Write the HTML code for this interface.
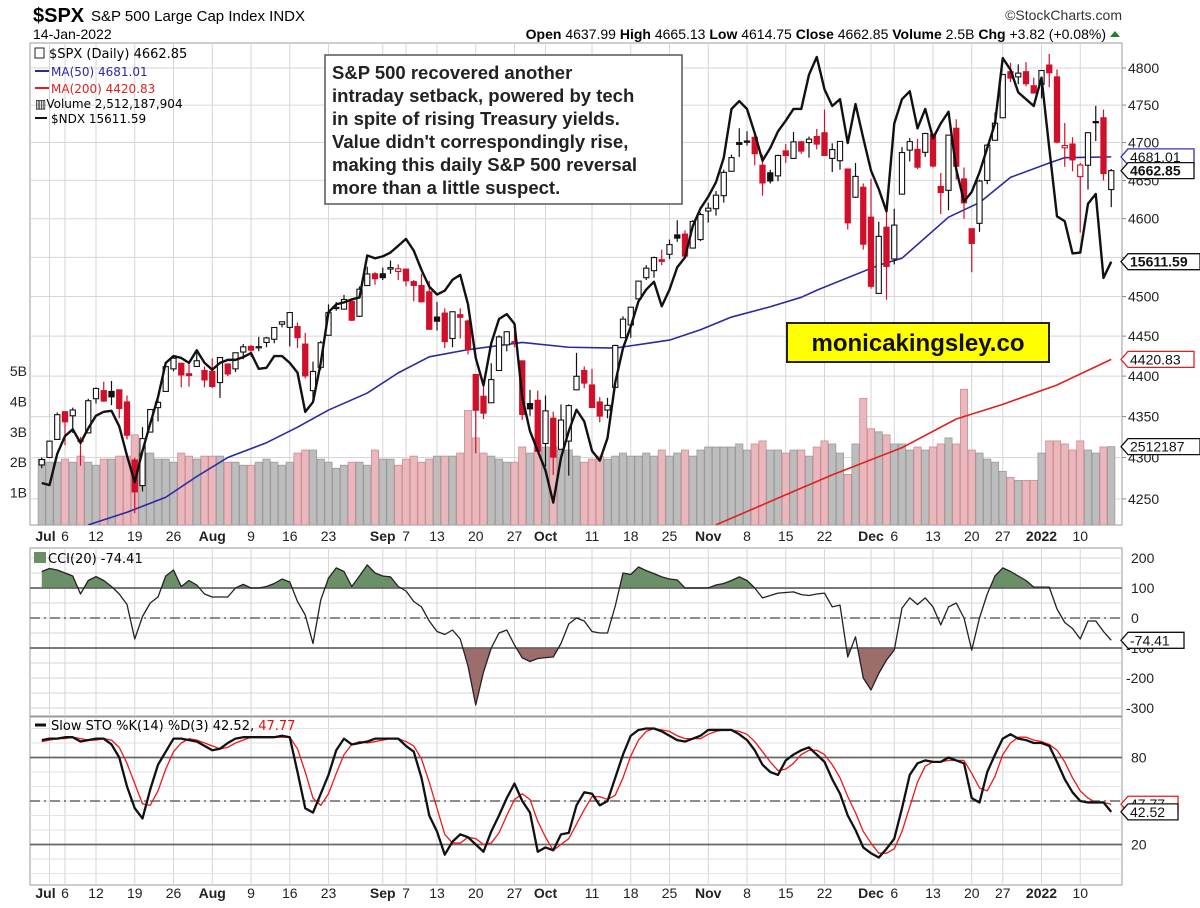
<!DOCTYPE html>
<html><head><meta charset="utf-8"><title>$SPX chart</title>
<style>
body{margin:0;background:#fff;}
svg{display:block;font-family:"Liberation Sans",Arial,sans-serif;}
.ax{font-size:14px;fill:#222;}
.lg{font-family:"DejaVu Sans",sans-serif;font-size:12px;}
</style></head>
<body>
<svg id="c" width="1200" height="908" viewBox="0 0 1200 908" xmlns="http://www.w3.org/2000/svg">
<text x="33" y="22" font-size="20" font-weight="bold">$SPX</text>
<text x="91" y="21" font-size="15">S&amp;P 500 Large Cap Index INDX</text>
<text x="33" y="39" font-size="14">14-Jan-2022</text>
<text x="1122" y="20" font-size="14" text-anchor="end" fill="#333">©StockCharts.com</text>
<text x="1106" y="39" font-size="14" text-anchor="end"><tspan font-weight="bold">Open</tspan> 4637.99 <tspan font-weight="bold">High</tspan> 4665.13 <tspan font-weight="bold">Low</tspan> 4614.75 <tspan font-weight="bold">Close</tspan> 4662.85 <tspan font-weight="bold">Volume</tspan> 2.5B <tspan font-weight="bold">Chg</tspan> +3.82 (+0.08%)</text>
<polygon points="1110,37 1120,37 1115,31" fill="#2a7a2a"/>
<defs>
<clipPath id="mainClip"><rect x="30" y="43" width="1092" height="482"/></clipPath>
<clipPath id="cciClip"><rect x="30" y="548" width="1092" height="168"/></clipPath>
<clipPath id="stoClip"><rect x="30" y="717" width="1092" height="168"/></clipPath>
</defs>
<g id="gMain" clip-path="url(#mainClip)"></g>
<g id="gCci" clip-path="url(#cciClip)"></g>
<g id="gSto" clip-path="url(#stoClip)"></g>
<g id="gTop"></g>
</svg>
<script>
// ---------- data ----------
const closes=[4297.5,4319.94,4352.34,4343.54,4358.13,4320.82,4369.55,4384.63,4369.21,4374.30,4360.03,4327.16,4258.49,4323.06,4358.69,4367.48,4411.79,4422.30,4401.46,4400.64,4419.15,4395.26,
4387.16,4423.15,4402.66,4429.10,4436.52,4432.35,4436.75,4447.70,4460.83,4468.00,4479.71,4448.08,4400.27,4405.80,4441.67,4479.53,4486.23,4496.19,4470.00,4509.37,4528.79,4522.68,
4524.09,4536.95,4535.43,4520.03,4514.07,4493.28,4458.58,4468.73,4443.05,4480.70,4473.75,4432.99,4357.73,4354.19,4395.64,4448.98,4455.48,4443.11,4352.63,4359.46,4307.54,
4357.04,4300.46,4345.72,4363.55,4399.76,4391.34,4361.19,4350.65,4363.80,4438.26,4471.37,4486.46,4519.63,4536.19,4549.78,4544.90,4566.48,4574.79,4551.68,4596.42,4605.38,
4613.67,4630.65,4660.57,4680.06,4697.53,4701.70,4685.25,4646.71,4649.27,4682.85,4682.80,4700.90,4688.67,4704.54,4697.96,4682.94,4690.70,4701.46,4594.62,4655.27,4567.00,
4513.04,4577.10,4538.43,4591.67,4686.75,4701.21,4667.45,4712.02,4668.97,4634.09,4709.85,4668.67,4620.64,4568.02,4649.23,4696.56,4725.79,4791.19,4786.35,4793.06,4778.73,4766.18,
4796.56,4793.54,4700.58,4696.05,4677.03,4670.29,4713.07,4726.35,4659.03,4662.85];
const opens=[4291,4300,4322,4356,4351,4321,4330,4372,4382,4381,4383,4368,4297,4266,4331,4361,4381,4409,4416,4403,4412,4407,
4406,4392,4415,4409,4430,4437,4436,4442,4446,4465,4461,4462,4440,4382,4411,4451,4485,4484,4494,4475,4514,4529,
4529,4535,4532,4535,4519,4514,4506,4474,4479,4447,4477,4469,4402,4375,4367,4407,4439,4443,4419,4366,4370,
4317,4348,4310,4320,4383,4407,4389,4368,4358,4386,4448,4464,4497,4524,4533,4547,4554,4579,4580,4562,4573,
4610,4613,4630,4662,4700,4702,4707,4670,4660,4656,4689,4679,4701,4700,4708,4713,4679,4676,4665,4628,4641,
4602,4504,4589,4548,4632,4690,4691,4687,4711,4642,4637,4719,4652,4587,4594,4650,4703,4733,4795,4788,4795,4776,
4778,4804,4788,4693,4698,4655,4670,4728,4733,4638];
const highs=[4300,4320,4355,4356,4361,4325,4372,4386,4393,4394,4383,4376,4300,4337,4359,4370,4415,4423,4416,4415,4430,4412,
4422,4423,4416,4429,4440,4439,4449,4449,4461,4468,4480,4467,4454,4418,4444,4490,4493,4502,4495,4513,4538,4531,
4537,4546,4541,4535,4521,4529,4520,4493,4485,4481,4485,4471,4402,4394,4416,4451,4456,4457,4419,4383,4382,
4376,4356,4365,4365,4429,4412,4409,4374,4373,4439,4475,4487,4520,4540,4551,4560,4573,4598,4585,4598,4608,
4621,4636,4664,4684,4719,4715,4708,4684,4664,4684,4698,4714,4702,4708,4718,4744,4699,4702,4665,4673,4646,
4652,4596,4608,4613,4694,4706,4705,4713,4712,4660,4709,4731,4667,4587,4651,4698,4740,4791,4807,4805,4808,4787,
4797,4819,4798,4726,4707,4673,4714,4749,4744,4665];
const lows=[4287,4300,4322,4315,4330,4290,4330,4366,4368,4364,4348,4322,4233,4259,4331,4344,4381,4406,4386,4387,4412,4386,
4385,4373,4400,4405,4421,4424,4431,4436,4441,4461,4437,4435,4397,4368,4408,4451,4482,4484,4469,4474,4514,4515,
4521,4529,4521,4513,4494,4493,4458,4457,4435,4436,4447,4427,4305,4347,4367,4407,4431,4436,4346,4351,4307,
4289,4279,4310,4278,4383,4385,4361,4343,4348,4386,4448,4448,4497,4521,4524,4540,4548,4570,4552,4562,4571,
4595,4604,4621,4662,4681,4696,4670,4630,4646,4649,4673,4679,4685,4680,4691,4683,4661,4664,4586,4627,4560,
4510,4504,4496,4541,4632,4675,4665,4681,4667,4606,4611,4651,4600,4531,4583,4645,4703,4733,4781,4778,4775,4766,
4759,4774,4699,4668,4662,4582,4638,4702,4650,4615];
const volumes=[2.1,2.0,2.0,2.1,2.0,2.2,2.0,1.9,2.1,2.1,2.2,2.2,2.9,2.3,2.3,2.1,2.1,2.0,2.3,2.2,2.1,2.2,
2.2,2.2,2.0,2.0,1.9,1.9,2.0,2.1,2.0,1.9,2.0,2.3,2.4,2.4,2.1,2.0,1.8,1.9,2.0,2.0,1.9,2.4,
2.1,2.1,1.9,2.1,2.2,2.0,2.1,2.2,2.2,2.2,2.3,3.7,2.8,2.3,2.2,2.1,2.0,2.0,2.5,2.3,2.6,
2.5,2.5,2.4,2.4,2.2,2.0,2.1,2.2,2.1,2.2,2.3,2.2,2.2,2.3,2.2,2.4,2.2,2.3,2.4,2.2,2.4,
2.5,2.5,2.5,2.5,2.6,2.4,2.6,2.7,2.4,2.4,2.3,2.4,2.4,2.2,2.5,2.7,2.6,2.3,1.6,2.6,4.1,
3.1,3.0,2.9,2.6,2.6,2.4,2.5,2.4,2.5,2.6,2.8,2.6,4.4,2.4,2.3,2.1,2.0,1.7,1.5,1.4,1.4,1.4,
2.3,2.7,2.7,2.6,2.4,2.7,2.4,2.3,2.5,2.512];
const ndx=[14573,14563,14710,14793,14825,14761,14830,14889,14907,14912,14839,14701,14577,14724,14852,14976,15137,15169,15160,15137,15196,15137,
15105,15137,15151,15151,15164,15183,15109,15114,15169,15169,15137,15091,14907,14953,15137,15375,15412,15421,15435,15444,15641,15628,
15637,15655,15687,15719,15664,15573,15495,15458,15476,15527,15550,15412,15160,15031,15229,15343,15366,15320,14976,14816,14724,
14632,14481,14692,14816,14917,14862,14724,14678,14784,15045,15206,15307,15426,15481,15518,15403,15481,15586,15632,15779,15862,
15917,15985,16100,16329,16366,16329,16215,16086,16146,16224,16274,16329,16329,16490,16573,16421,16343,16375,16169,16352,16192,
16040,15953,15848,16261,16375,16412,16238,16329,16192,16261,16316,16045,15894,15940,16031,16146,16261,16568,16513,16407,16375,16343,
16476,16146,15825,15802,15651,15655,15884,15930,15536,15612];
const ma50Idx=[6,11,16,20,24,29,33,37,42,46,50,55,62,68,74,81,85,89,94,98,100,108,111,117,121,125,130,132,138];
const ma50Val=[4219,4234,4252,4277,4300,4318,4337,4358,4379,4404,4424,4433,4442,4436,4435,4445,4458,4474,4487,4499,4508,4540,4549,4602,4621,4654,4673,4680,4681.01];
const ma200Idx=[87,98,102,111,118,124,131,138];
const ma200Val=[4219,4263,4279,4312,4347,4365,4389,4420.83];
const cci=[155,165,160,150,140,80,125,138,125,105,80,45,-70,5,50,70,140,160,105,125,110,80,
70,70,70,100,112,100,100,105,115,130,120,55,10,-85,60,133,167,155,105,140,177,150,
140,137,105,90,55,37,-10,-45,-55,-40,-70,-160,-290,-180,-100,-50,-40,-90,-133,-145,-135,
-132,-130,-85,-20,0,-10,-45,-50,-50,40,150,145,170,158,148,137,130,127,100,100,100,
100,110,115,125,137,125,100,67,75,83,85,87,78,75,80,83,37,43,-130,-63,-200,
-240,-185,-140,-107,33,67,45,67,37,-23,37,50,0,-107,0,80,140,167,155,140,125,103,
103,103,30,-15,-35,-70,-10,-10,-45,-74.41];
const stoK=[92,93,93,94,94,91,92,93,93,89,80,60,45,38,58,75,84,93,93,92,91,88,
85,86,90,93,94,94,94,94,94,95,94,70,45,42,55,68,85,93,89,90,91,93,
93,93,93,88,84,66,40,29,13,22,27,25,20,15,29,40,52,62,50,42,15,
18,16,27,28,47,56,55,47,50,66,82,95,99,100,100,98,95,92,91,93,95,
99,99,99,99,96,92,85,75,70,68,78,82,85,87,82,77,65,55,40,30,18,
14,11,17,24,45,68,76,78,77,77,80,78,76,52,49,70,82,93,96,93,92,90,
90,88,77,65,56,50,49,49,49,42.52];
const stoD=[91,92,93,93,94,93,92,92,93,92,87,76,62,48,47,57,72,84,90,93,92,90,
88,86,87,90,92,94,94,94,94,94,94,86,70,52,47,55,69,82,89,91,90,91,
92,93,93,91,88,79,63,45,27,21,21,25,24,20,21,28,40,51,55,51,36,
25,16,20,24,34,44,53,53,51,54,66,81,92,98,100,99,98,95,93,93,93,
96,98,99,99,98,96,91,84,77,71,72,76,82,85,85,82,75,66,53,42,29,
21,14,14,17,29,46,63,74,77,77,78,78,78,69,59,57,67,82,90,94,94,92,
91,89,85,77,66,57,52,49,49,47.77];
const tickIdx=[1,3,7,12,17,22,27,32,37,44,47,51,56,61,65,71,76,81,86,91,96,101,107,110,115,120,124,129,134];
const tickLbl=['Jul','6','12','19','26','Aug','9','16','23','Sep','7','13','20','27','Oct','11','18','25','Nov','8','15','22','Dec','6','13','20','27','2022','10'];
const priceTicks=[4250,4300,4350,4400,4450,4500,4550,4600,4650,4700,4750,4800];
const volTicks=[1,2,3,4,5];
const volTickLbl=['1B','2B','3B','4B','5B'];
const cciTicks=[-300,-200,-100,0,100,200];
const stoTicks=[20,80];

// ---------- scales ----------
const NS='http://www.w3.org/2000/svg';
function X(i){return 41.75+i*7.75;}
function yP(p){return 68+3541*Math.log(4800/p);}
function yN(v){return 57+(16573-v)*0.213;}
function yV(v){return 523-v*30.4;}
function yC(v){return 618-v*0.3;}
function yS(v){return 801-(v-50)*1.45;}
function mk(tag,parent){const e=document.createElementNS(NS,tag);parent.appendChild(e);return e;}
function sa(e,o){for(const k in o)e.setAttribute(k,o[k]);return e;}
const svg=document.getElementById('c');
const gMain=document.getElementById('gMain');
const gCci=document.getElementById('gCci');
const gSto=document.getElementById('gSto');
const gTop=document.getElementById('gTop');
const grid='#d6d6d6';

[[43,482],[548,168],[717,168]].forEach(function(p,k){
  const r=mk('rect',svg);svg.insertBefore(r,gMain);
  sa(r,{x:30,y:p[0],width:1092,height:p[1],fill:'#fff',stroke:'#999','stroke-width':1});
  
  
});

[gMain,gCci,gSto].forEach(function(g){
  tickIdx.forEach(function(t){
    const l=mk('line',g);sa(l,{x1:X(t),x2:X(t),y1:40,y2:890,stroke:grid,'stroke-width':1});
    
    
  });
});
priceTicks.forEach(function(p){
  const y=yP(p);
  const l=mk('line',gMain);sa(l,{x1:30,x2:1122,y1:y,y2:y,stroke:grid});
  
  
  const t=mk('text',gTop);sa(t,{x:1128,y:y+5,'class':'ax'});t.textContent=p;
  
  
  const tk=mk('line',gTop);sa(tk,{x1:1122,x2:1126,y1:y,y2:y,stroke:'#888'});
  
  
});
volTicks.forEach(function(v,k){
  const t=mk('text',gTop);sa(t,{x:27,y:yV(v)+5,'class':'ax','text-anchor':'end','font-size':'13'});t.textContent=volTickLbl[k];
  
  
});
volumes.forEach(function(v,i){
  const down=i>0&&closes[i]<closes[i-1];
  const r=mk('rect',gMain);
  sa(r,{x:X(i)-3.6,y:yV(v),width:7.2,height:525-yV(v),fill:down?'#e8b8bd':'#bdbdbd',stroke:down?'#d08a92':'#9a9a9a','stroke-width':0.8});
  
  
});
function pline(g,idx,val,yf,color,w,name){
  const p=mk('polyline',g);
  sa(p,{points:idx.map(function(t,k){return X(t)+','+yf(val[k]);}).join(' '),fill:'none',stroke:color,'stroke-width':w,'stroke-linejoin':'round'});
  
  
  return p;
}
pline(gMain,ma200Idx,ma200Val,yP,'#e02020',1.6,'ma200-line');
pline(gMain,ma50Idx,ma50Val,yP,'#2a2aa0',1.6,'ma50-line');
closes.forEach(function(c,i){
  const o=opens[i],h=highs[i],l=lows[i];
  const col=(i>0&&c<closes[i-1])?'#d0102a':'#111';
  const w=mk('line',gMain);sa(w,{x1:X(i),x2:X(i),y1:yP(h),y2:yP(l),stroke:col,'stroke-width':1.2});
  
  
  const top=yP(Math.max(o,c)),bot=yP(Math.min(o,c));
  const b=mk('rect',gMain);
  sa(b,{x:X(i)-2.6,y:top,width:5.2,height:Math.max(1.2,bot-top),fill:c<o?col:'#fff',stroke:col,'stroke-width':1.1});
  
  
});
pline(gMain,ndx.map(function(v,i){return i;}),ndx,yN,'#111',2.4,'ndx-line');

for(let v=-300;v<=200;v+=50){
  const l=mk('line',gCci);sa(l,{x1:30,x2:1122,y1:yC(v),y2:yC(v),stroke:grid});
  
  
}
const cciIdx=cci.map(function(v,i){return i;});
const cciPts=cci.map(function(v,i){return X(i)+','+yC(v);}).join(' ');
const cp1=mk('clipPath',svg);sa(cp1,{id:'cciUp'});sa(mk('rect',cp1),{x:30,y:540,width:1092,height:yC(100)-540});
const cp2=mk('clipPath',svg);sa(cp2,{id:'cciDn'});sa(mk('rect',cp2),{x:30,y:yC(-100),width:1092,height:200});
const f1=mk('polygon',gCci);sa(f1,{points:X(0)+','+yC(100)+' '+cciPts+' '+X(cci.length-1)+','+yC(100),fill:'#6b8f66','clip-path':'url(#cciUp)'});


const f2=mk('polygon',gCci);sa(f2,{points:X(0)+','+yC(-100)+' '+cciPts+' '+X(cci.length-1)+','+yC(-100),fill:'#9c6d6b','clip-path':'url(#cciDn)'});


[100,-100].forEach(function(v){
  const l=mk('line',gCci);sa(l,{x1:30,x2:1122,y1:yC(v),y2:yC(v),stroke:'#666','stroke-width':1.8});
  
  
});
const z0=mk('line',gCci);sa(z0,{x1:30,x2:1122,y1:yC(0),y2:yC(0),stroke:'#666','stroke-width':1.6,'stroke-dasharray':'10,4,2,4'});


pline(gCci,cciIdx,cci,yC,'#222',1.3,'cci-line');
cciTicks.forEach(function(v){
  const t=mk('text',gTop);sa(t,{x:v<0?1126:1131,y:yC(v)+5,'class':'ax'});t.textContent=v;
  
  
});

for(let v=0;v<=100;v+=10){
  const l=mk('line',gSto);sa(l,{x1:30,x2:1122,y1:yS(v),y2:yS(v),stroke:'#e2e2e2'});
  
  
}
stoTicks.forEach(function(v){
  const l=mk('line',gSto);sa(l,{x1:30,x2:1122,y1:yS(v),y2:yS(v),stroke:'#666','stroke-width':1.8});
  
  
  const t=mk('text',gTop);sa(t,{x:1131,y:yS(v)+5,'class':'ax'});t.textContent=v;
  
  
});
const s50=mk('line',gSto);sa(s50,{x1:30,x2:1122,y1:yS(50),y2:yS(50),stroke:'#666','stroke-width':1.6,'stroke-dasharray':'10,4,2,4'});


pline(gSto,stoD.map(function(v,i){return i;}),stoD,yS,'#f01818',1.3,'sto-d-line');
pline(gSto,stoK.map(function(v,i){return i;}),stoK,yS,'#111',2.3,'sto-k-line');

[536,893].forEach(function(yy,k){
  tickIdx.forEach(function(t,j){
    const isM=/[A-Za-z]/.test(tickLbl[j])||tickLbl[j]==='2022';
    const tx=mk('text',gTop);sa(tx,{x:X(t)+(tickLbl[j]==='Jul'?-4:0),y:yy+5,'class':'ax','text-anchor':'middle','font-weight':isM?'bold':'normal'});
    tx.textContent=tickLbl[j];
    
    
  });
});

function tag(y,txt,color,bold,name,w){
  w=w||66;
  const p=mk('path',gTop);
  sa(p,{d:'M1121,'+y+' L1128,'+(y-8)+' L'+(1128+w)+','+(y-8)+' L'+(1128+w)+','+(y+8)+' L1128,'+(y+8)+' Z',fill:'#fff',stroke:color,'stroke-width':1.3});
  
  
  const t=mk('text',gTop);sa(t,{x:1130,y:y+5,'font-size':'14','font-weight':bold?'bold':'normal',fill:'#111'});t.textContent=txt;
  
  
}
tag(yP(ma50Val[ma50Val.length-1]),'4681.01','#3030c0',false,'ma50');
tag(yP(closes[closes.length-1]),'4662.85','#111',true,'close');
tag(yN(ndx[ndx.length-1]),'15611.59','#111',true,'ndx',72);
tag(yP(ma200Val[ma200Val.length-1]),'4420.83','#e02020',false,'ma200');
tag(yV(volumes[volumes.length-1]),'2512187','#111',false,'volume',72);
tag(yC(cci[cci.length-1]),'-74.41','#111',false,'cci',56);
tag(yS(stoD[stoD.length-1]),'47.77','#f01818',false,'sto-d',50);
tag(yS(stoK[stoK.length-1]),'42.52','#111',false,'sto-k',50);
</script>
<svg style="position:absolute;left:0;top:0" width="1200" height="908">
<g class="lg">
<rect x="35" y="48" width="9" height="10" fill="none" stroke="#222"/>
<text x="49" y="58" font-size="13">$SPX (Daily) 4662.85</text>
<line x1="35" x2="49" y1="71" y2="71" stroke="#2a2aa0" stroke-width="2"/>
<text x="51" y="76" fill="#2a2aa0">MA(50) 4681.01</text>
<line x1="35" x2="49" y1="88" y2="88" stroke="#e02020" stroke-width="2"/>
<text x="51" y="93" fill="#e02020">MA(200) 4420.83</text>
<text x="35" y="108">▥Volume 2,512,187,904</text>
<line x1="35" x2="47" y1="118" y2="118" stroke="#111" stroke-width="2"/>
<text x="51" y="123">$NDX 15611.59</text>
</g>
<g>
<rect x="325" y="55" width="357" height="149" fill="#fff" stroke="#555" stroke-width="1.5"/>
<text font-family="Liberation Sans, Arial, sans-serif" font-weight="bold" font-size="18.5" fill="#222">
<tspan x="332" y="79">S&amp;P 500 recovered another</tspan>
<tspan x="332" y="102">intraday setback, powered by tech</tspan>
<tspan x="332" y="125">in spite of rising Treasury yields.</tspan>
<tspan x="332" y="148">Value didn't correspondingly rise,</tspan>
<tspan x="332" y="171">making this daily S&amp;P 500 reversal</tspan>
<tspan x="332" y="194">more than a little suspect.</tspan>
</text>
</g>
<g>
<rect x="787" y="323" width="262" height="39" fill="#ffff00" stroke="#222" stroke-width="2"/>
<text x="918" y="351" text-anchor="middle" font-family="Liberation Sans, Arial, sans-serif" font-weight="bold" font-size="24" fill="#111">monicakingsley.co</text>
</g>
<g class="lg">
<rect x="34" y="552" width="12" height="11" fill="#6b8f66"/>
<text x="48" y="563" font-size="13">CCI(20) -74.41</text>
</g>
<g class="lg">
<line x1="35" x2="46" y1="725" y2="725" stroke="#111" stroke-width="3"/>
<text x="51" y="730" font-size="13">Slow STO %K(14) %D(3) 42.52, <tspan fill="#e01010">47.77</tspan></text>
</g>
</svg>
</body></html>
